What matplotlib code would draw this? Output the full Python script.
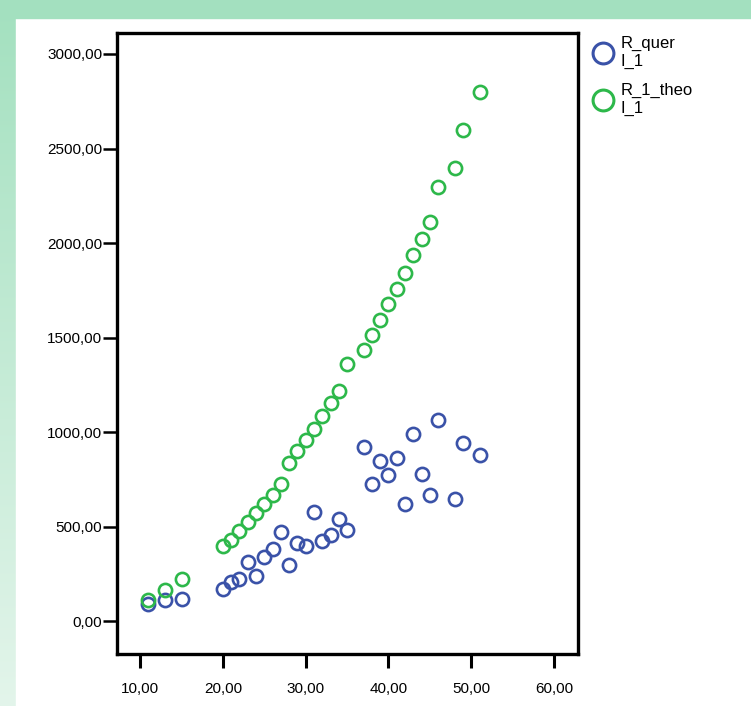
import numpy as np
import matplotlib
matplotlib.use("Agg")
import matplotlib.pyplot as plt
from matplotlib.ticker import FuncFormatter, FixedLocator
from matplotlib.lines import Line2D

plt.rcParams['font.family'] = ['Liberation Sans', 'DejaVu Sans']

x_vals = [11, 13, 15, 20, 21, 22, 23, 24, 25, 26, 27, 28, 29, 30, 31, 32, 33, 34, 35,
          37, 38, 39, 40, 41, 42, 43, 44, 45, 46, 48, 49, 51]
r_quer = [90, 111, 121, 174, 211, 222, 317, 243, 343, 385, 475, 296, 417, 401, 581, 428,
          459, 544, 486, 924, 729, 850, 776, 866, 623, 993, 781, 670, 1066, 649, 945, 882]
r_theo = [116, 164, 227, 401, 433, 480, 528, 575, 623, 670, 729, 839, 903, 961, 1019, 1088,
          1156, 1220, 1362, 1436, 1515, 1595, 1679, 1758, 1843, 1938, 2022, 2112, 2297,
          2397, 2598, 2798]
series_labels = ["R_quer\nI_1", "R_1_theo\nI_1"]
x_ticks = [10, 20, 30, 40, 50, 60]
y_ticks = [0, 500, 1000, 1500, 2000, 2500, 3000]

blue = "#3a52a8"
green = "#2db84a"

W, H = 751, 706
fig = plt.figure(figsize=(W / 100, H / 100), dpi=100)

# background gradient strips
bg = fig.add_axes([0, 0, 1, 1], zorder=-10)
grad = np.linspace(0, 1, 256).reshape(-1, 1)
top_c = np.array([0.64, 0.88, 0.75])
bot_c = np.array([0.89, 0.96, 0.92])
img = top_c[None, None, :] * (1 - grad[:, :, None]) + bot_c[None, None, :] * grad[:, :, None]
bg.imshow(img, aspect='auto', extent=[0, 1, 0, 1], origin='upper')
bg.add_patch(plt.Rectangle((16 / W, 0), 1, 1 - 18 / H, color='white', transform=bg.transAxes))
bg.add_patch(plt.Rectangle((0, 1 - 18 / H), 1, 18 / H, color=top_c, transform=bg.transAxes))
bg.set_xlim(0, 1)
bg.set_ylim(0, 1)
bg.axis('off')

left, right, top, bottom = 117, 578, 33, 654
ax = fig.add_axes([left / W, 1 - bottom / H, (right - left) / W, (bottom - top) / H])
ax.set_facecolor('white')

ms = 9.5
ax.plot(x_vals, r_quer, linestyle='none', marker='o', markersize=ms, markerfacecolor='none',
        markeredgecolor=blue, markeredgewidth=1.9)
ax.plot(x_vals, r_theo, linestyle='none', marker='o', markersize=ms, markerfacecolor='none',
        markeredgecolor=green, markeredgewidth=1.9)

ax.set_xlim(7.2, 62.9)
ax.set_ylim(-172, 3111)
ax.xaxis.set_major_locator(FixedLocator(x_ticks))
ax.yaxis.set_major_locator(FixedLocator(y_ticks))
fmt = FuncFormatter(lambda v, p: f"{v:.2f}".replace('.', ','))
ax.xaxis.set_major_formatter(fmt)
ax.yaxis.set_major_formatter(fmt)
for s in ax.spines.values():
    s.set_linewidth(2.4)
    s.set_color('black')
ax.tick_params(axis='y', direction='out', length=10, width=1.8, labelsize=11, pad=0.5)
ax.tick_params(axis='x', direction='out', length=10, width=2.2, labelsize=11, pad=10)

handles = [Line2D([], [], linestyle='none', marker='o', markersize=15, markerfacecolor='none',
                  markeredgecolor=c, markeredgewidth=2.2) for c in (blue, green)]
fig.legend(handles, series_labels, loc='upper left', bbox_to_anchor=(586 / W, 1 - 28 / H),
           frameon=False, fontsize=12, handlelength=1.0, handletextpad=0.55,
           labelspacing=0.85, borderpad=0)

fig.savefig("out.png", dpi=100)
